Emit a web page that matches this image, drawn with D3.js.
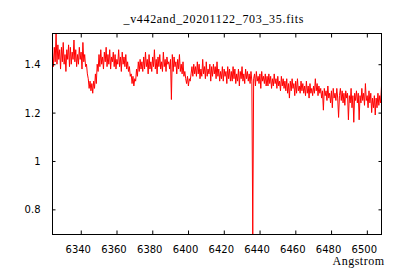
<!DOCTYPE html>
<html>
<head>
<meta charset="utf-8">
<script src="https://cdn.jsdelivr.net/npm/d3@7"></script>
<style>
  body { margin: 0; background: #fff; }
</style>
</head>
<body>
<svg id="spectrum"></svg>
<script>
// Spectrum plot, gnuplot look

var title = "_v442and_20201122_703_35.fits";
var xLabel = "Angstrom";

// wavelength grid of the spectrum (start + step, as in the fits header)
var waveStart = 6324.2;
var waveStep = 0.5;

// flux values, one every 0.5 Angstrom
var flux = [
  1.45, 1.39, 1.47, 1.41, 1.527, 1.40, 1.48, 1.42, 1.46, 1.38, 1.47, 1.41, 1.49, 1.40, 1.44, 1.37, 1.46, 1.42, 1.48, 1.39,
  1.47, 1.40, 1.45, 1.42, 1.50, 1.41, 1.46, 1.39, 1.44, 1.40, 1.47, 1.42, 1.45, 1.38, 1.49, 1.41, 1.44, 1.39, 1.40, 1.36,
  1.34, 1.30, 1.33, 1.29, 1.32, 1.28, 1.33, 1.30, 1.36, 1.32, 1.40, 1.37, 1.44, 1.39, 1.46, 1.40, 1.43, 1.38, 1.45, 1.41,
  1.47, 1.39, 1.44, 1.40, 1.46, 1.38, 1.43, 1.41, 1.45, 1.39, 1.44, 1.38, 1.42, 1.40, 1.46, 1.39, 1.43, 1.37, 1.45, 1.40,
  1.43, 1.39, 1.44, 1.38, 1.41, 1.37, 1.39, 1.35, 1.36, 1.32, 1.35, 1.31, 1.34, 1.33, 1.38, 1.35, 1.41, 1.37, 1.42, 1.38,
  1.41, 1.37, 1.43, 1.38, 1.45, 1.39, 1.42, 1.36, 1.44, 1.38, 1.41, 1.37, 1.43, 1.39, 1.46, 1.38, 1.42, 1.36, 1.43, 1.39,
  1.44, 1.38, 1.41, 1.37, 1.45, 1.39, 1.42, 1.37, 1.43, 1.40, 1.41, 1.38, 1.42, 1.254, 1.44, 1.37, 1.43, 1.39, 1.41, 1.36,
  1.42, 1.38, 1.44, 1.37, 1.40, 1.36, 1.41, 1.35, 1.37, 1.34, 1.32, 1.35, 1.31, 1.34, 1.33, 1.36, 1.39, 1.35, 1.40, 1.36,
  1.39, 1.35, 1.41, 1.36, 1.40, 1.34, 1.38, 1.35, 1.42, 1.36, 1.39, 1.34, 1.41, 1.35, 1.38, 1.36, 1.40, 1.33, 1.39, 1.35,
  1.40, 1.36, 1.39, 1.34, 1.41, 1.35, 1.38, 1.33, 1.37, 1.34, 1.39, 1.33, 1.38, 1.35, 1.37, 1.32, 1.39, 1.34, 1.38, 1.33,
  1.37, 1.33, 1.39, 1.34, 1.38, 1.32, 1.36, 1.33, 1.38, 1.31, 1.37, 1.34, 1.39, 1.33, 1.36, 1.32, 1.38, 1.34, 1.37, 1.33,
  1.36, 1.32, 1.37, 1.33, 0.696, 1.34, 1.36, 1.31, 1.37, 1.33, 1.35, 1.32, 1.36, 1.30, 1.37, 1.33, 1.35, 1.32, 1.36, 1.31,
  1.35, 1.31, 1.36, 1.32, 1.35, 1.30, 1.34, 1.31, 1.36, 1.32, 1.34, 1.30, 1.35, 1.31, 1.33, 1.29, 1.35, 1.31, 1.34, 1.30,
  1.33, 1.29, 1.34, 1.28, 1.32, 1.26, 1.33, 1.29, 1.34, 1.30, 1.32, 1.27, 1.33, 1.28, 1.34, 1.29, 1.31, 1.28, 1.33, 1.29,
  1.32, 1.28, 1.31, 1.27, 1.33, 1.28, 1.31, 1.26, 1.32, 1.28, 1.30, 1.27, 1.31, 1.28, 1.34, 1.29, 1.32, 1.27, 1.31, 1.28,
  1.30, 1.26, 1.29, 1.21, 1.30, 1.27, 1.29, 1.25, 1.31, 1.26, 1.28, 1.24, 1.29, 1.22, 1.30, 1.26, 1.28, 1.25, 1.30, 1.26,
  1.18, 1.27, 1.30, 1.25, 1.29, 1.24, 1.28, 1.23, 1.29, 1.26, 1.28, 1.17, 1.27, 1.24, 1.30, 1.22, 1.27, 1.16, 1.28, 1.25,
  1.29, 1.24, 1.28, 1.17, 1.27, 1.24, 1.30, 1.25, 1.28, 1.23, 1.32, 1.25, 1.27, 1.22, 1.29, 1.24, 1.28, 1.20, 1.26, 1.22,
  1.27, 1.19, 1.26, 1.22, 1.28, 1.23, 1.27, 1.24, 1.31
];

var xTicks = [6340, 6360, 6380, 6400, 6420, 6440, 6460, 6480, 6500];
var yTicks = [0.8, 1, 1.2, 1.4];

var width = 400;
var height = 280;
var plotLeft = 52.5, plotRight = 381.5, plotTop = 33.5, plotBottom = 234.5;

var dataList = flux.map(function(f, i) {
  return {"Wave": waveStart + i * waveStep, "Flux": f};
});

var xScale = d3.scaleLinear()
    .domain(d3.extent(dataList, function(d) { return d.Wave; }))
    .range([plotLeft, plotRight]);

var yScale = d3.scaleLinear()
    .domain(d3.extent(dataList, function(d) { return d.Flux; }))
    .range([plotBottom, plotTop]);

var svg = d3.select("#spectrum")
    .attr("width", width)
    .attr("height", height)
    .style("background", "#fff");

svg.append("clipPath")
    .attr("id", "plotClip")
  .append("rect")
    .attr("x", plotLeft)
    .attr("y", plotTop)
    .attr("width", plotRight - plotLeft)
    .attr("height", plotBottom - plotTop);

// spectrum line
var line = d3.line()
    .x(function(d) { return xScale(d.Wave); })
    .y(function(d) { return yScale(d.Flux); });

svg.append("path")
    .datum(dataList)
    .attr("clip-path", "url(#plotClip)")
    .attr("fill", "none")
    .attr("stroke", "#ff0000")
    .attr("stroke-width", 1)
    .attr("d", line);

// axes, ticks inward and mirrored like gnuplot
var fmt = d3.format("~g");

svg.append("g")
    .attr("class", "xAxis")
    .attr("transform", "translate(0," + plotBottom + ")")
    .call(d3.axisTop(xScale).tickValues(xTicks).tickSize(4).tickFormat(""));

svg.append("g")
    .attr("class", "xAxisTop")
    .attr("transform", "translate(0," + plotTop + ")")
    .call(d3.axisBottom(xScale).tickValues(xTicks).tickSize(4).tickFormat(""));

svg.append("g")
    .attr("class", "yAxis")
    .attr("transform", "translate(" + plotLeft + ",0)")
    .call(d3.axisRight(yScale).tickValues(yTicks).tickSize(3).tickFormat(""));

svg.append("g")
    .attr("class", "yAxisRight")
    .attr("transform", "translate(" + plotRight + ",0)")
    .call(d3.axisLeft(yScale).tickValues(yTicks).tickSize(3).tickFormat(""));

svg.selectAll(".domain").remove();
svg.selectAll(".tick line").attr("stroke", "#000");

// frame
svg.append("rect")
    .attr("x", plotLeft)
    .attr("y", plotTop)
    .attr("width", plotRight - plotLeft)
    .attr("height", plotBottom - plotTop)
    .attr("fill", "none")
    .attr("stroke", "#000")
    .attr("stroke-width", 1);

// tick labels
svg.selectAll(".xLabel")
    .data(xTicks)
    .enter()
    .append("text")
    .attr("class", "xLabel")
    .attr("x", function(d) { return xScale(d) - 2.5; })
    .attr("y", 252.7)
    .attr("text-anchor", "middle")
    .style("font-family", "DejaVu Sans")
    .style("font-size", "10px")
    .text(function(d) { return fmt(d); });

svg.selectAll(".yLabel")
    .data(yTicks)
    .enter()
    .append("text")
    .attr("class", "yLabel")
    .attr("x", 40.5)
    .attr("y", function(d) { return yScale(d) + 4; })
    .attr("text-anchor", "end")
    .style("font-family", "DejaVu Sans")
    .style("font-size", "10px")
    .text(function(d) { return fmt(d); });

svg.append("text")
    .attr("x", 123.5)
    .attr("y", 22.7)
    .attr("textLength", 180)
    .attr("lengthAdjust", "spacing")
    .style("font-family", "Liberation Serif")
    .style("font-size", "12px")
    .text(title);

svg.append("text")
    .attr("x", 332.5)
    .attr("y", 265.3)
    .attr("textLength", 51.5)
    .attr("lengthAdjust", "spacing")
    .style("font-family", "Liberation Serif")
    .style("font-size", "12px")
    .text(xLabel);
</script>
</body>
</html>
